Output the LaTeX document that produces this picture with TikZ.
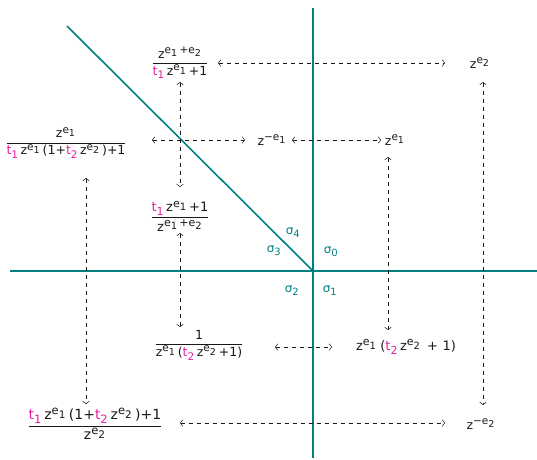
\documentclass[tikz,border=0pt]{standalone}
\usepackage{fontspec}
\setmainfont{DejaVu Sans}
\usepackage{amsmath}
\usetikzlibrary{arrows.meta}
\DeclareMathSizes{12}{12}{10}{9}
\DeclareMathSizes{12.5}{12.5}{10.5}{9.5}
\DeclareMathSizes{13}{13}{11}{10}
\DeclareMathSizes{14}{14}{11.5}{10.5}
\definecolor{tealc}{RGB}{0,128,128}
\definecolor{mag}{RGB}{230,30,160}
\definecolor{txt}{RGB}{25,25,25}
\newcommand{\sx}[1]{\text{#1}}
\newcommand{\zp}[1]{\sx{z}^{#1}}
\newcommand{\gp}{\mkern3mu}
\newcommand{\eone}{\sx{e}_{\sx{1}}}
\newcommand{\etwo}{\sx{e}_{\sx{2}}}
\newcommand{\tone}{{\color{mag}\sx{t}_{\sx{1}}}}
\newcommand{\ttwo}{{\color{mag}\sx{t}_{\sx{2}}}}
\newcommand{\pls}{\sx{+}}
\newcommand{\mns}{\sx{−}}
\newcommand{\lpar}{\sx{(}}
\newcommand{\rpar}{\sx{)}}
\newcommand{\sig}[1]{$\sx{σ}_{\sx{#1}}$}
\begin{document}
\begin{tikzpicture}[x=1pt,y=-1pt,
  font=\fontsize{12.5}{14}\selectfont,
  lbl/.style={inner sep=1pt, text=txt},
  fs13/.style={font=\fontsize{13}{15}\selectfont},
  fs14/.style={font=\fontsize{14}{16}\selectfont},
  sg/.style={text=tealc, inner sep=0pt, font=\fontsize{12}{14}\selectfont},
  axis/.style={draw=tealc, line width=1.6pt},
  dd/.style={draw=txt, line width=0.5pt, dash pattern=on 4.5pt off 3.5pt,
    {Straight Barb[length=2.5pt,width=6.5pt]}-{Straight Barb[length=2.5pt,width=6.5pt]}}]
\useasboundingbox (0,0) rectangle (537,459);
% axes
\coordinate (hl) at (10,271);
\coordinate (hr) at (537,271);
\coordinate (vt) at (313,8);
\coordinate (vb) at (313,458);
\coordinate (dg) at (67,26);
\coordinate (o) at (313,271);
\draw[axis] (hl) -- (hr);
\draw[axis] (vt) -- (vb);
\draw[axis] (dg) -- (o);
% sigma labels
\node[sg] (s4) at (293,233) {\sig{4}};
\node[sg] (s3) at (274,251) {\sig{3}};
\node[sg] (s0) at (331,252) {\sig{0}};
\node[sg] (s2) at (292,291) {\sig{2}};
\node[sg] (s1) at (330,291) {\sig{1}};
% nodes
\node[lbl] (A) at (180,63) {$\dfrac{\zp{\eone\gp\pls\etwo}}{\tone\gp\zp{\eone}\gp\pls\sx{1}}$};
\node[lbl] (B) at (480,63) {$\zp{\etwo}$};
\node[lbl] (C) at (66,143) {$\dfrac{\zp{\eone}}{\tone\gp\zp{\eone}\gp\lpar\sx{1}\pls\ttwo\gp\zp{\etwo}\gp\rpar\pls\sx{1}}$};
\node[lbl] (D) at (272,140) {$\zp{\mns\eone}$};
\node[lbl] (E) at (395,140) {$\zp{\eone}$};
\node[lbl,fs13] (F) at (180,216) {$\dfrac{\tone\gp\zp{\eone}\gp\pls\sx{1}}{\zp{\eone\gp\pls\etwo}}$};
\node[lbl] (G) at (199,345) {$\dfrac{\sx{1}}{\zp{\eone}\gp\lpar\ttwo\gp\zp{\etwo}\gp\pls\sx{1}\rpar}$};
\node[lbl,fs13] (H) at (406,347) {$\zp{\eone}\mkern5mu\lpar\ttwo\gp\zp{\etwo}\mkern5mu\mathbin{\sx{+}}\mkern3mu\sx{1}\rpar$};
\node[lbl,fs14] (I) at (95,424) {$\dfrac{\tone\gp\zp{\eone}\gp\lpar\sx{1}\pls\ttwo\gp\zp{\etwo}\gp\rpar\pls\sx{1}}{\zp{\etwo}}$};
\node[lbl] (J) at (481,424) {$\zp{\mns\etwo}$};
% connectors
\draw[dd] ([xshift=38pt]A.center) -- ([xshift=-35pt]B.center);
\draw[dd] ([yshift=-19pt]A.center) -- ([yshift=29pt]F.center);
\draw[dd] ([yshift=-17pt]F.center) -- ([xshift=-19pt,yshift=18pt]G.center);
\draw[dd] ([xshift=86pt,yshift=3pt]C.center) -- ([xshift=-27pt]D.center);
\draw[dd] ([xshift=20pt]D.center) -- ([xshift=-14pt]E.center);
\draw[dd] ([xshift=-7pt,yshift=-17pt]E.center) -- ([xshift=-18pt,yshift=17pt]H.center);
\draw[dd] ([xshift=76pt,yshift=-2pt]G.center) -- ([xshift=-74pt]H.center);
\draw[dd] ([xshift=20pt,yshift=-35pt]C.center) -- ([xshift=-9pt,yshift=20pt]I.center);
\draw[dd] ([xshift=85pt,yshift=1pt]I.center) -- ([xshift=-36pt,yshift=1pt]J.center);
\draw[dd] ([xshift=3pt,yshift=-19pt]B.center) -- ([xshift=2pt,yshift=19pt]J.center);
\end{tikzpicture}
\end{document}
